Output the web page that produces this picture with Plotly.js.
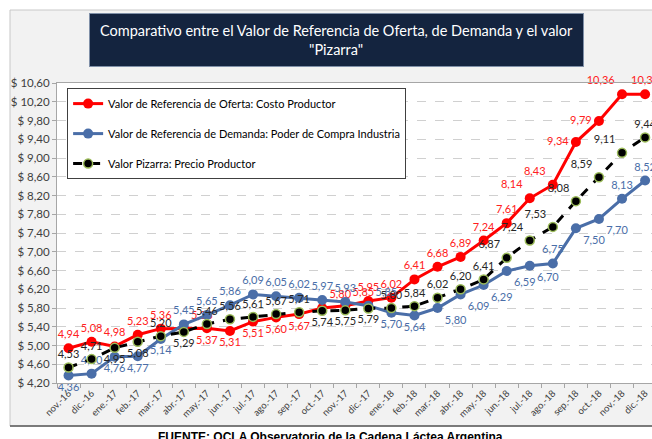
<!DOCTYPE html>
<html>
<head>
<meta charset="utf-8">
<script src="https://cdn.plot.ly/plotly-3.0.1.min.js"></script>
<style>html,body{margin:0;padding:0;background:#fff;}#chart{width:652px;height:439px;}</style>
</head>
<body>
<div id="chart"></div>
<script>
var months = ["nov.-16","dic.-16","ene.-17","feb.-17","mar.-17","abr.-17","may.-17","jun.-17","jul.-17","ago.-17","sep.-17","oct.-17","nov.-17","dic.-17","ene.-18","feb.-18","mar.-18","abr.-18","may.-18","jun.-18","jul.-18","ago.-18","sep.-18","oct.-18","nov.-18","dic.-18"];
var oferta = [4.94,5.08,4.98,5.23,5.36,5.36,5.37,5.31,5.51,5.60,5.67,5.80,5.85,5.95,6.02,6.41,6.68,6.89,7.24,7.61,8.14,8.43,9.34,9.79,10.36,10.36];
var demanda = [4.36,4.40,4.76,4.77,5.14,5.45,5.65,5.86,6.09,6.05,6.02,5.97,5.93,5.85,5.70,5.64,5.80,6.09,6.29,6.59,6.70,6.75,7.50,7.70,8.13,8.52];
var pizarra = [4.53,4.71,4.95,5.08,5.20,5.29,5.46,5.56,5.61,5.67,5.71,5.74,5.75,5.79,5.80,5.84,6.02,6.20,6.41,6.87,7.24,7.53,8.08,8.59,9.11,9.44];
var yTicks = [4.20,4.60,5.00,5.40,5.80,6.20,6.60,7.00,7.40,7.80,8.20,8.60,9.00,9.40,9.80,10.20,10.60];
var seriesNames = ["Valor de Referencia de Oferta: Costo Productor","Valor de Referencia de Demanda: Poder de Compra Industria","Valor Pizarra: Precio Productor"];

var posOferta = ["top center","top center","top center","top center","top center","top right","bottom center","bottom center","bottom center","bottom center","bottom center","top right","top right","top center","top center","top center","top center","top center","top center","top center","top left","top left","middle left","middle left","top left","top center"];
var posDemanda = ["bottom center","top center","bottom center","bottom center","bottom center","top center","top center","top center","top center","top center","top center","top center","top center","top right","bottom center","bottom center","bottom right","bottom right","bottom right","bottom right","bottom right","top center","bottom right","bottom right","top center","top center"];
var posPizarra = ["top center","top center","bottom center","bottom center","top center","bottom center","top center","top center","top center","top center","top center","bottom center","bottom center","bottom center","top center","top center","top center","top center","top center","top left","top left","top left","top left","top left","top left","top center"];

function fmt(v){ return v.toFixed(2).replace('.', ','); }
var FONT = "Lato, 'Open Sans', sans-serif";

var traces = [
  {x: months, y: oferta, name: seriesNames[0], legendgroup: 'a', mode: 'lines+markers+text',
   line: {color: '#ff0000', width: 3}, marker: {color: '#ff0000', size: 10},
   text: oferta.map(fmt), textposition: posOferta, textfont: {family: FONT, size: 11, color: '#ff2020'}, cliponaxis: false},
  {x: months, y: demanda, name: seriesNames[1], legendgroup: 'b', mode: 'lines+markers+text',
   line: {color: '#4a6ea8', width: 3}, marker: {color: '#4a6ea8', size: 10},
   text: demanda.map(fmt), textposition: posDemanda, textfont: {family: FONT, size: 11, color: '#4a6ea8'}, cliponaxis: false},
  {x: months, y: pizarra, name: seriesNames[2], legendgroup: 'c', mode: 'lines+markers+text',
   line: {color: '#000000', width: 3, dash: 'dash'}, marker: {color: '#000000', size: 9, line: {color: '#9bbb59', width: 1.5}},
   text: pizarra.map(fmt), textposition: posPizarra, textfont: {family: FONT, size: 11, color: '#262626'}, cliponaxis: false}
];

var layout = {
  width: 652, height: 439,
  margin: {l: 57, r: 0, t: 83, b: 56, autoexpand: false},
  paper_bgcolor: '#ffffff', plot_bgcolor: 'rgba(0,0,0,0)',
  font: {family: FONT, color: '#404040'},
  showlegend: true,
  legend: {x: 0.017, y: 0.983, xanchor: 'left', yanchor: 'top', bgcolor: '#ffffff', bordercolor: '#404040', borderwidth: 1,
           font: {family: FONT, size: 11, color: '#000000'}, traceorder: 'grouped', tracegroupgap: 11, itemwidth: 30},
  xaxis: {type: 'category', range: [-0.5, 25.3], showgrid: false, showline: true, linecolor: '#a6a6a6', linewidth: 1,
          mirror: true, ticks: 'outside', tickson: 'boundaries', ticklen: 4, tickcolor: '#a6a6a6', tickangle: -45,
          tickfont: {family: FONT, size: 9.5, color: '#404040'}, fixedrange: true},
  yaxis: {range: [4.2, 10.6], tickvals: yTicks, ticktext: yTicks.map(function(v){return '$ ' + fmt(v);}),
          showgrid: true, gridcolor: '#d0d0d0', griddash: 'dash', gridwidth: 1, showline: true, linecolor: '#a6a6a6',
          ticks: 'outside', ticklen: 4, tickcolor: '#a6a6a6', zeroline: false,
          tickfont: {family: FONT, size: 11.5, color: '#404040'}, fixedrange: true},
  shapes: [
    {type: 'rect', xref: 'paper', yref: 'paper', x0: -0.079, x1: 1.02, y0: -0.1433, y1: 1.2433, fillcolor: '#f2f2f2', line: {color: '#c8c8c8', width: 1}, layer: 'below'},
    {type: 'rect', xref: 'paper', yref: 'paper', x0: 0, x1: 1, y0: 0, y1: 1, fillcolor: '#ffffff', line: {width: 0}, layer: 'below'},
    {type: 'line', xref: 'paper', yref: 'paper', x0: -0.079, x1: 1.02, y0: -0.1433, y1: -0.1433, line: {color: '#595959', width: 1.5}}
  ],
  annotations: [
    {xref: 'paper', yref: 'paper', x: 0.4697, y: 1.1433, xanchor: 'center', yanchor: 'middle', showarrow: false,
     text: 'Comparativo entre el Valor de Referencia de Oferta, de Demanda y el valor<br>"Pizarra"',
     width: 493, height: 52, borderpad: 0, bgcolor: '#14243f', bordercolor: '#8090a8', borderwidth: 1, align: 'center', valign: 'middle',
     font: {family: FONT, size: 14.5, color: '#ffffff'}},
    {xref: 'paper', yref: 'paper', x: 0.4605, y: -0.18, xanchor: 'center', yanchor: 'middle', showarrow: false,
     text: '<b>FUENTE: OCLA Observatorio de la Cadena Láctea Argentina</b>',
     font: {family: 'Liberation Sans, Arial, sans-serif', size: 12, color: '#000000'}}
  ]
};

Plotly.newPlot('chart', traces, layout, {staticPlot: true, displayModeBar: false});
</script>
</body>
</html>
